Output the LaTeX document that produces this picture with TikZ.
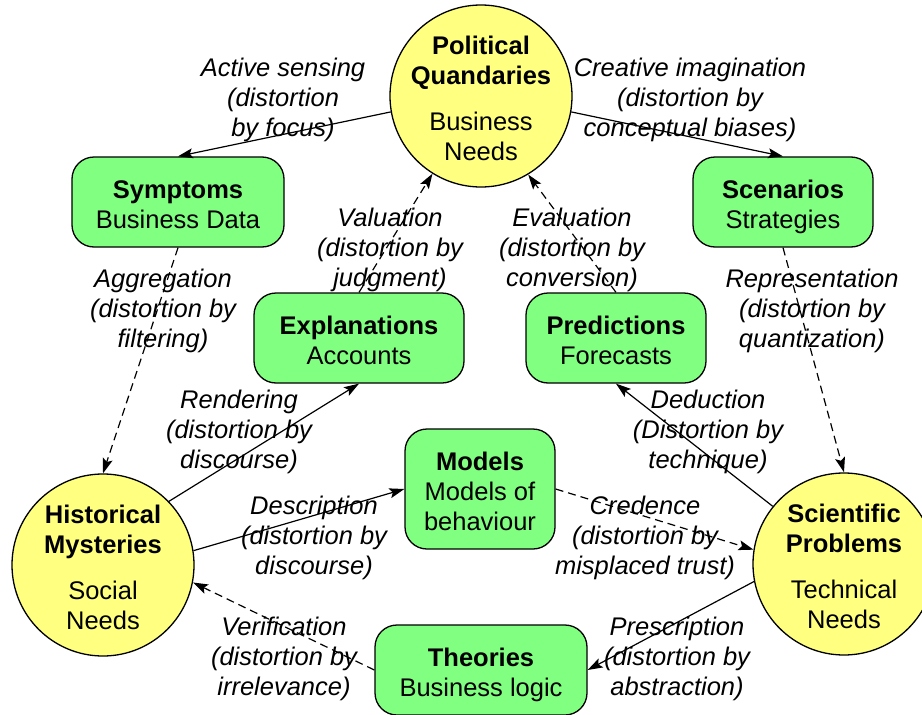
\documentclass[tikz,border=0pt]{standalone}
\usepackage{fontspec}
\setmainfont{Liberation Sans}
\usetikzlibrary{arrows.meta}
\definecolor{cyel}{HTML}{FFFF80}
\definecolor{cgrn}{HTML}{80FF80}
\newcommand\firstln{\rule{0pt}{23pt}}
\begin{document}
\begin{tikzpicture}[x=1pt,y=-1pt,
  every node/.style={font=\fontsize{25.5}{30}\selectfont, align=center},
  circ/.style={circle, draw, fill=cyel, line width=1.3pt, minimum size=182pt, inner sep=-20pt},
  box/.style={rectangle, rounded corners=22pt, draw, fill=cgrn, line width=1.3pt, inner sep=0pt},
  lbl/.style={font=\itshape\fontsize{25.5}{30}\selectfont},
  conn/.style={line width=1.2pt, -{Stealth[length=15pt,width=10pt,inset=3pt]}},
  dconn/.style={conn, dash pattern=on 8pt off 5pt}
]
\useasboundingbox (0,0) rectangle (922,715);
% circles
\node[circ] (pq) at (481,96) {\firstln\textbf{Political}\\\textbf{Quandaries}\\[16pt]Business\\\smash{Needs}};
\node[circ] (hist) at (103,565) {\firstln\textbf{Historical}\\\textbf{Mysteries}\\[16pt]Social\\\smash{Needs}};
\node[circ] (sci) at (844,564) {\firstln\textbf{Scientific}\\\textbf{Problems}\\[16pt]Technical\\\smash{Needs}};
% boxes
\node[box, minimum width=212pt, minimum height=90pt] (sym) at (178,202) {\firstln\textbf{Symptoms}\\\smash{Business Data}};
\node[box, minimum width=180pt, minimum height=90pt] (scen) at (783,202) {\firstln\textbf{Scenarios}\\\smash{Strategies}};
\node[box, minimum width=210pt, minimum height=90pt] (expl) at (359,338) {\firstln\textbf{Explanations}\\\smash{Accounts}};
\node[box, minimum width=180pt, minimum height=90pt] (pred) at (616,338) {\firstln\textbf{Predictions}\\\smash{Forecasts}};
\node[box, minimum width=150pt, minimum height=120pt] (mod) at (480,489) {\firstln\textbf{Models}\\Models of\\\smash{behaviour}};
\node[box, minimum width=212pt, minimum height=90pt] (theo) at (481,670) {\firstln\textbf{Theories}\\\smash{Business logic}};
% labels
\node[lbl] (l1) at (283,100) {Active sensing\\(distortion\\by focus)};
\node[lbl] (l2) at (690,100) {Creative imagination\\(distortion by\\conceptual biases)};
\node[lbl] (l3) at (163,311) {Aggregation\\(distortion by\\filtering)};
\node[lbl] (l4) at (812,311) {Representation\\(distortion by\\quantization)};
\node[lbl] (l5) at (390,250) {Valuation\\(distortion by\\judgment)};
\node[lbl] (l6) at (572,250) {Evaluation\\(distortion by\\conversion)};
\node[lbl] (l7) at (239,432) {Rendering\\(distortion by\\discourse)};
\node[lbl] (l8) at (708,432) {Deduction\\(Distortion by\\technique)};
\node[lbl] (l9) at (314,538) {Description\\(distortion by\\discourse)};
\node[lbl] (l10) at (645,538) {Credence\\(distortion by\\misplaced trust)};
\node[lbl] (l11) at (284,659) {Verification\\(distortion by\\irrelevance)};
\node[lbl] (l12) at (677,659) {Prescription\\(distortion by\\abstraction)};
% connectors
\draw[conn] (pq.190) -- (sym.north);
\draw[conn] (pq.350) -- (scen.north);
\draw[dconn] (sym.south) -- (hist.north);
\draw[dconn] (scen.south) -- (sci.north);
\draw[conn] (hist.44) -- (expl.south);
\draw[conn] (hist.9.5) -- (mod.west);
\draw[dconn] (expl.north) -- (pq.238.7);
\draw[dconn] (pred.north) -- (pq.301.4);
\draw[conn] (sci.141) -- (pred.south);
\draw[dconn] (mod.east) -- (sci.171);
\draw[conn] (sci.191) -- (theo.east);
\draw[dconn] (theo.west) -- (hist.349);
\end{tikzpicture}
\end{document}
